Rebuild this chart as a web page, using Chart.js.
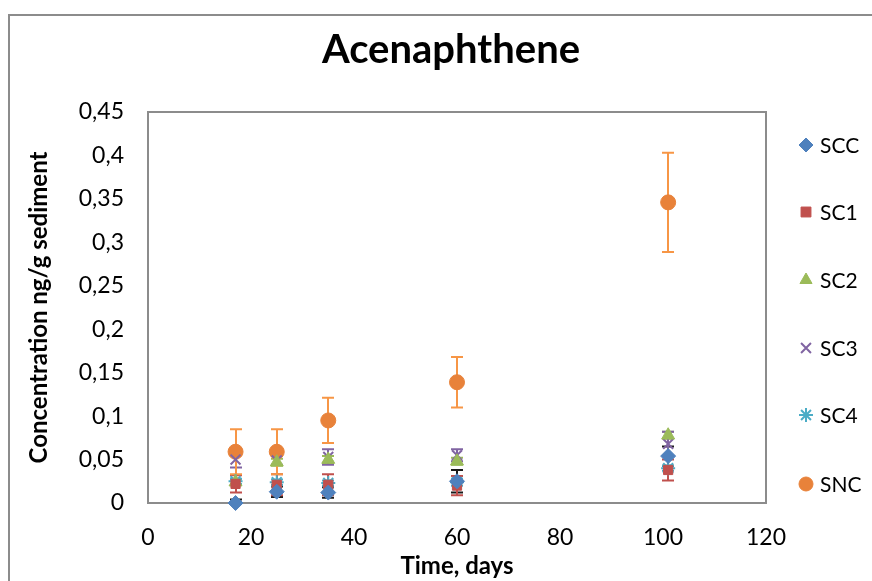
<!DOCTYPE html>
<html>
<head>
<meta charset="utf-8">
<script src="https://cdn.jsdelivr.net/npm/chart.js@4"></script>
<style>
  body { margin: 0; background: #fff; }
  #wrap { position: relative; width: 872px; height: 581px; overflow: hidden; }
  #frame { position: absolute; left: 8px; top: 14px; width: 900px; height: 600px; border: 2px solid #8c8c8c; box-sizing: border-box; }
  canvas { position: absolute; left: 0; top: 0; }
</style>
</head>
<body>
<div id="wrap">
  <div id="frame"></div>
  <canvas id="chart" width="872" height="581"></canvas>
</div>
<script>
// Dữ liệu
const days = [17, 25, 35, 60, 101];
const seriesNames = ['SCC', 'SC1', 'SC2', 'SC3', 'SC4', 'SNC'];

const scc = [0, 0.013, 0.012, 0.025, 0.054];
const sc1 = [0.022, 0.021, 0.021, 0.02, 0.038];
const sc2 = [0.024, 0.047, 0.05, 0.048, 0.078];
const sc3 = [0.05, 0.049, 0.053, 0.055, 0.068];
const sc4 = [0.025, 0.024, 0.023, 0.024, 0.04];
const snc = [0.059, 0.059, 0.095, 0.139, 0.346];

const sccErr = [0.004, 0.006, 0.006, 0.013, 0.011];
const sc1Err = [0.01, 0.012, 0.012, 0.011, 0.012];
const sc2Err = [0.003, 0.004, 0.004, 0.004, 0.004];
const sc3Err = [0.009, 0.005, 0.009, 0.007, 0.014];
const sc4Err = [0.003, 0.003, 0.003, 0.004, 0.003];
const sncErr = [0.026, 0.026, 0.026, 0.029, 0.057];

const yTicks = [0, 0.05, 0.1, 0.15, 0.2, 0.25, 0.3, 0.35, 0.4, 0.45];
const chartTitle = 'Acenaphthene';

const FONT = 'Lato, Carlito, "Noto Sans", sans-serif';

function pts(values) {
  return values.map((v, i) => ({ x: days[i], y: v }));
}

const datasets = [
  { label: seriesNames[0], data: pts(scc), err: sccErr, errColor: '#1a1a1a', pointStyle: 'rectRot', pointRadius: 7.5, backgroundColor: '#4F81BD', borderColor: '#4F81BD', borderWidth: 1 },
  { label: seriesNames[1], data: pts(sc1), err: sc1Err, errColor: '#C0504D', pointStyle: 'rect', pointRadius: 6.5, backgroundColor: '#C0504D', borderColor: '#C0504D', borderWidth: 1 },
  { label: seriesNames[2], data: pts(sc2), err: sc2Err, errColor: '#9BBB59', pointStyle: 'triangle', pointRadius: 7.5, backgroundColor: '#9BBB59', borderColor: '#9BBB59', borderWidth: 1 },
  { label: seriesNames[3], data: pts(sc3), err: sc3Err, errColor: '#8064A2', pointStyle: 'crossRot', pointRadius: 7, backgroundColor: '#8064A2', borderColor: '#8064A2', borderWidth: 2 },
  { label: seriesNames[4], data: pts(sc4), err: sc4Err, errColor: '#4BACC6', pointStyle: 'star', pointRadius: 7, backgroundColor: '#4BACC6', borderColor: '#4BACC6', borderWidth: 2 },
  { label: seriesNames[5], data: pts(snc), err: sncErr, errColor: '#F79646', pointStyle: 'circle', pointRadius: 7.5, backgroundColor: '#E8823A', borderColor: '#E8823A', borderWidth: 1 }
];
datasets.forEach(ds => { ds.clip = false; });

// Vẽ thanh sai số bằng các thang đo của Chart.js
const errorBars = {
  id: 'errorBars',
  beforeDatasetsDraw(chart) {
    const ctx = chart.ctx;
    const xs = chart.scales.x, ys = chart.scales.y;
    ctx.save();
    ctx.lineWidth = 2;
    chart.data.datasets.forEach(ds => {
      ctx.strokeStyle = ds.errColor;
      ds.data.forEach((p, i) => {
        const e = ds.err[i];
        const px = Math.round(xs.getPixelForValue(p.x));
        const top = ys.getPixelForValue(p.y + e);
        const bot = ys.getPixelForValue(Math.max(p.y - e, 0));
        ctx.beginPath();
        ctx.moveTo(px, top); ctx.lineTo(px, bot);
        ctx.moveTo(px - 6, top); ctx.lineTo(px + 6, top);
        ctx.moveTo(px - 6, bot); ctx.lineTo(px + 6, bot);
        ctx.stroke();
      });
    });
    ctx.restore();
  }
};

// Khung vùng vẽ, tiêu đề và chú giải bên phải
const frameAndLegend = {
  id: 'frameAndLegend',
  beforeDatasetsDraw(chart) {
    const ctx = chart.ctx;
    const a = chart.chartArea;
    ctx.save();
    ctx.strokeStyle = '#8c8c8c';
    ctx.lineWidth = 2;
    ctx.strokeRect(a.left, a.top, a.right - a.left, a.bottom - a.top);
    ctx.restore();
  },
  afterDatasetsDraw(chart) {
    const ctx = chart.ctx;
    ctx.save();
    ctx.fillStyle = '#000';
    ctx.textAlign = 'center';
    ctx.textBaseline = 'middle';
    ctx.font = 'bold 40px ' + FONT;
    ctx.fillText(chartTitle, 451, 50);

    const legendY = [145, 212, 280, 348, 415, 484];
    ctx.font = '21px ' + FONT;
    ctx.textAlign = 'left';
    chart.data.datasets.forEach((ds, i) => {
      ctx.fillStyle = ds.backgroundColor;
      ctx.strokeStyle = ds.borderColor;
      ctx.lineWidth = ds.borderWidth;
      Chart.helpers.drawPoint(ctx, { pointStyle: ds.pointStyle, radius: 7, rotation: 0, borderWidth: ds.borderWidth }, 806, legendY[i]);
      ctx.fillStyle = '#000';
      ctx.fillText(ds.label, 820, legendY[i] + 1);
    });
    ctx.restore();
  }
};

new Chart(document.getElementById('chart').getContext('2d'), {
  type: 'scatter',
  data: { datasets: datasets },
  plugins: [errorBars, frameAndLegend],
  options: {
    responsive: false,
    animation: false,
    layout: { padding: { left: 0, right: 106, top: 112, bottom: 0 } },
    plugins: {
      legend: { display: false },
      tooltip: { enabled: false },
      title: { display: false }
    },
    scales: {
      x: {
        type: 'linear',
        min: 0, max: 120,
        ticks: { stepSize: 20, color: '#000', font: { family: FONT, size: 23 }, padding: 21 },
        grid: { display: false, drawTicks: false },
        border: { color: '#8c8c8c', width: 2 },
        title: { display: true, text: 'Time, days', color: '#000', font: { family: FONT, size: 24, weight: 'bold' }, padding: { top: -2, bottom: 0 } },
        afterFit(scale) { scale.height = 78; }
      },
      y: {
        min: 0, max: 0.45,
        afterBuildTicks(scale) { scale.ticks = yTicks.map(v => ({ value: v })); },
        ticks: {
          color: '#000',
          font: { family: FONT, size: 23 },
          padding: 24,
          callback: v => String(Number(v.toFixed(2))).replace('.', ',')
        },
        grid: { display: false, drawTicks: false },
        border: { color: '#8c8c8c', width: 2 },
        title: { display: true, text: 'Concentration ng/g sediment', color: '#000', font: { family: FONT, size: 24, weight: 'bold' }, padding: { top: 25, bottom: 0 } },
        afterFit(scale) { scale.width = 148; }
      }
    }
  }
});
</script>
</body>
</html>
